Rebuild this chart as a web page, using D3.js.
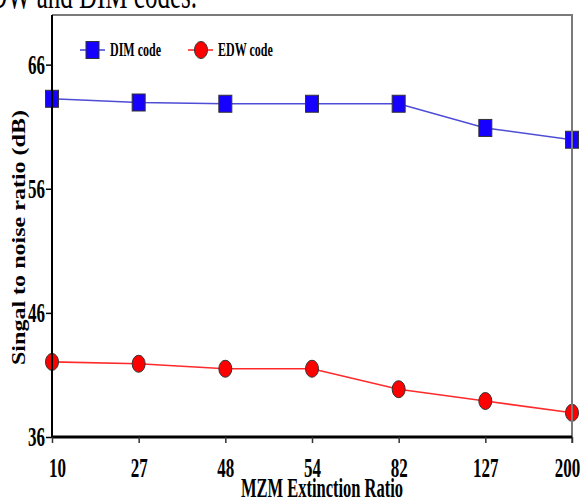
<!DOCTYPE html>
<html>
<head>
<meta charset="utf-8">
<script src="https://cdn.jsdelivr.net/npm/d3@7"></script>
<style>
  body { margin: 0; background: #fff; }
  svg { display: block; }
  text { font-family: "Liberation Serif", "Times New Roman", serif; }
</style>
</head>
<body>
<div id="chart"></div>
<script>
// data
const ratios = ["10", "27", "48", "54", "82", "127", "200"];
const dimCode = [63.25, 62.95, 62.85, 62.85, 62.85, 60.9, 59.95];
const edwCode = [42.05, 41.9, 41.5, 41.5, 39.85, 38.9, 37.95];
const yTicks = [36, 46, 56, 66];

const W = 582, H = 498;
const mLeft = 52, mRight = 572, mTop = 15, mBottom = 437;
const stretch = 1.6; // text in the source is stretched vertically

const svg = d3.select("#chart").append("svg")
    .attr("width", W).attr("height", H);

// caption fragment cut off at top
svg.append("g")
    .attr("transform", `translate(197,8) scale(1,${stretch})`)
    .append("text")
    .attr("text-anchor", "end")
    .attr("font-size", 25)
    .attr("fill", "#000")
    .text("EDW and DIM codes.");

const x = d3.scalePoint().domain(ratios).range([mLeft, mRight]).padding(0);
const y = d3.scaleLinear().domain([36, 70]).range([mBottom, mTop]);

// series lines
const line = d3.line()
    .x((d, i) => x(ratios[i]))
    .y(d => y(d));

svg.append("path")
    .datum(dimCode)
    .attr("fill", "none")
    .attr("stroke", "#4d4dd6")
    .attr("stroke-width", 1.6)
    .attr("d", line);

svg.append("path")
    .datum(edwCode)
    .attr("fill", "none")
    .attr("stroke", "#ff2a2a")
    .attr("stroke-width", 1.6)
    .attr("d", line);

// markers
svg.append("g").selectAll("rect")
    .data(dimCode)
    .join("rect")
    .attr("x", (d, i) => x(ratios[i]) - 6.5)
    .attr("y", d => y(d) - 8.5)
    .attr("width", 13)
    .attr("height", 17)
    .attr("fill", "#1600ff")
    .attr("stroke", "#333")
    .attr("stroke-width", 1);

svg.append("g").selectAll("ellipse")
    .data(edwCode)
    .join("ellipse")
    .attr("cx", (d, i) => x(ratios[i]))
    .attr("cy", d => y(d))
    .attr("rx", 6.5)
    .attr("ry", 8.5)
    .attr("fill", "#ff0000")
    .attr("stroke", "#333")
    .attr("stroke-width", 1);

// frame: grey top and right
svg.append("line")
    .attr("x1", mLeft).attr("x2", mRight).attr("y1", mTop).attr("y2", mTop)
    .attr("stroke", "#7a7a7a").attr("stroke-width", 2);
svg.append("line")
    .attr("x1", mRight).attr("x2", mRight).attr("y1", mTop - 1).attr("y2", mBottom + 6)
    .attr("stroke", "#7a7a7a").attr("stroke-width", 2);

// y axis
const yAxis = svg.append("g")
    .attr("transform", `translate(${mLeft},0)`)
    .call(d3.axisLeft(y).tickValues(yTicks).tickSize(6).tickPadding(2));
yAxis.select(".domain")
    .attr("stroke", "#000").attr("stroke-width", 2)
    .attr("d", `M0,${mTop}V${mBottom}`);
yAxis.selectAll(".tick line").attr("stroke", "#000").attr("stroke-width", 1.5);
yAxis.selectAll(".tick text")
    .attr("font-family", "Liberation Serif, serif")
    .attr("font-size", 17)
    .attr("font-weight", "bold")
    .attr("fill", "#000")
    .attr("x", -7)
    .attr("dy", "0.33em")
    .attr("transform", `scale(1,${stretch})`);

// x axis
const xAxis = svg.append("g")
    .attr("transform", `translate(0,${mBottom})`)
    .call(d3.axisBottom(x).tickSize(6));
xAxis.select(".domain")
    .attr("stroke", "#000").attr("stroke-width", 3)
    .attr("d", `M${mLeft},0H${mRight}`);
xAxis.selectAll(".tick line").attr("stroke", "#333").attr("stroke-width", 1.5);
xAxis.selectAll(".tick text")
    .attr("font-family", "Liberation Serif, serif")
    .attr("font-size", 17)
    .attr("font-weight", "bold")
    .attr("fill", "#000")
    .attr("y", 40 / stretch)
    .attr("dy", 0)
    .attr("dx", (d, i) => i === 0 ? 5 : (i === ratios.length - 1 ? -5 : 0))
    .attr("transform", `scale(1,${stretch})`);

// axis titles
svg.append("g")
    .attr("transform", `translate(322,497) scale(1,${stretch})`)
    .append("text")
    .attr("text-anchor", "middle")
    .attr("font-size", 16.5)
    .attr("font-weight", "bold")
    .attr("fill", "#000")
    .text("MZM Extinction Ratio");

svg.append("text")
    .attr("transform", "translate(25,237.5) rotate(-90)")
    .attr("text-anchor", "middle")
    .attr("font-size", 19)
    .attr("font-weight", "bold")
    .attr("fill", "#000")
    .attr("textLength", 255)
    .attr("lengthAdjust", "spacingAndGlyphs")
    .text("Singal to noise  ratio (dB)");

// legend
const legend = [
    {name: "DIM code", x0: 80, color: "#4d4dd6", shape: "rect"},
    {name: "EDW code", x0: 188, color: "#ff2a2a", shape: "ellipse"}
];
const ly = 50;
legend.forEach(l => {
    const g = svg.append("g");
    g.append("line")
        .attr("x1", l.x0).attr("x2", l.x0 + 25)
        .attr("y1", ly).attr("y2", ly)
        .attr("stroke", l.color).attr("stroke-width", 1.6);
    if (l.shape === "rect") {
        g.append("rect")
            .attr("x", l.x0 + 6).attr("y", ly - 8.5)
            .attr("width", 13).attr("height", 17)
            .attr("fill", "#1600ff").attr("stroke", "#333");
    } else {
        g.append("ellipse")
            .attr("cx", l.x0 + 13).attr("cy", ly)
            .attr("rx", 6.5).attr("ry", 8.5)
            .attr("fill", "#ff0000").attr("stroke", "#333");
    }
    g.append("g")
        .attr("transform", `translate(${l.x0 + 30},${ly + 6}) scale(1,1.55)`)
        .append("text")
        .attr("font-size", 12)
        .attr("font-weight", "bold")
        .attr("fill", "#000")
        .text(l.name);
});
</script>
</body>
</html>
